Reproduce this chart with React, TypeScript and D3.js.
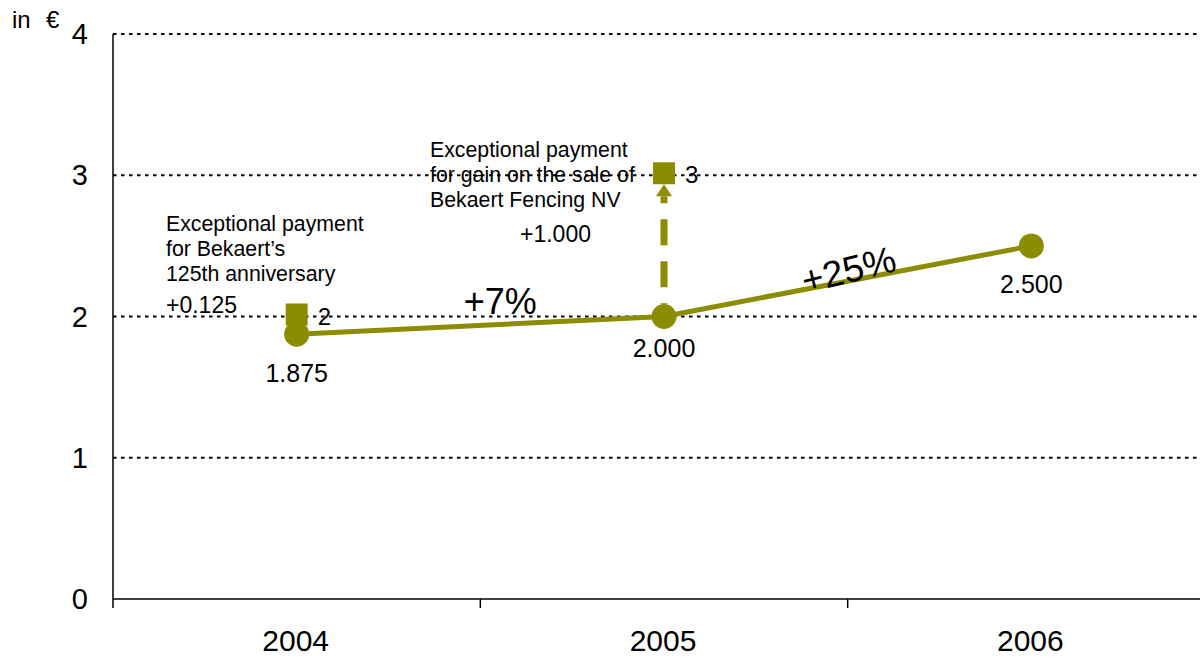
import React from "react";
import * as d3 from "d3";

const years = ["2004", "2005", "2006"];
const dividend = [1.875, 2.0, 2.5];
const dividendLabels = ["1.875", "2.000", "2.500"];
const exceptionalYears = ["2004", "2005"];
const exceptionalTotals = [2, 3];
const exceptionalLabels = ["2", "3"];
const yTicks = [0, 1, 2, 3, 4];
const growthLabels = ["+7%", "+25%"];

const W = 1200;
const H = 658;
const OLIVE = "#8c8c00";
const FONT = "'Liberation Sans', Arial, Helvetica, sans-serif";

export default function App() {
  const x = d3.scaleBand<string>().domain(years).range([113, 1215]).padding(0);
  const y = d3.scaleLinear().domain([0, 4]).range([599, 34]);
  const cx = (yr: string) => (x(yr) as number) + x.bandwidth() / 2;

  const line = d3
    .line<number>()
    .x((_, i) => cx(years[i]))
    .y((d) => y(d));

  const boundaries = years.slice(1).map((yr) => x(yr) as number);
  const r = 12.5;
  const sq = 22;
  const sqShift = -2;

  const ax = cx("2005");
  const arrowTip = y(3) + sq / 2 + sqShift;
  const arrowBase = arrowTip + 12;
  const shaftBottom = y(2) - r;

  const mid1x = (cx("2004") + cx("2005")) / 2;
  const mid1y = (y(dividend[0]) + y(dividend[1])) / 2;
  const mid2x = (cx("2005") + cx("2006")) / 2;
  const mid2y = (y(dividend[1]) + y(dividend[2])) / 2;

  return (
    <div style={{ position: "absolute", left: 0, top: 0 }}>
      <svg width={W} height={H} style={{ display: "block", fontFamily: FONT }}>
        <rect width={W} height={H} fill="#fff" />
        {yTicks
          .filter((t) => t > 0)
          .map((t) => (
            <line
              key={t}
              x1={113}
              x2={W}
              y1={y(t)}
              y2={y(t)}
              stroke="#000"
              strokeWidth={2}
              strokeDasharray="3.5 4.5"
            />
          ))}
        <line x1={113} x2={113} y1={y(4)} y2={608} stroke="#000" strokeWidth={1.5} />
        <line x1={113} x2={W} y1={y(0)} y2={y(0)} stroke="#000" strokeWidth={1.5} />
        {boundaries.map((b, i) => (
          <line key={i} x1={b} x2={b} y1={y(0)} y2={608} stroke="#000" strokeWidth={1.5} />
        ))}
        {yTicks.map((t) => (
          <text key={t} x={88} y={y(t) + 10} textAnchor="end" fontSize={29} fill="#000">
            {t}
          </text>
        ))}
        {years.map((yr) => (
          <text key={yr} x={cx(yr) - 1} y={651} textAnchor="middle" fontSize={30} fill="#000">
            {yr}
          </text>
        ))}
        <text x={12} y={28} fontSize={24} fill="#000">
          in
        </text>
        <text x={46} y={28} fontSize={24} fill="#000">
          €
        </text>

        <path d={line(dividend) as string} fill="none" stroke={OLIVE} strokeWidth={5} />

        <line
          x1={ax}
          x2={ax}
          y1={arrowBase}
          y2={shaftBottom}
          stroke={OLIVE}
          strokeWidth={7}
          strokeDasharray="26 16"
          strokeDashoffset={19}
        />
        <path
          d={`M${ax},${arrowTip} L${ax - 8},${arrowBase} L${ax + 8},${arrowBase} Z`}
          fill={OLIVE}
        />

        {exceptionalYears.map((yr, i) => (
          <rect
            key={yr}
            x={cx(yr) - sq / 2}
            y={y(exceptionalTotals[i]) - sq / 2 + sqShift}
            width={sq}
            height={sq}
            fill={OLIVE}
          />
        ))}
        {exceptionalYears.map((yr, i) => (
          <text
            key={yr}
            x={cx(yr) + 21}
            y={y(exceptionalTotals[i]) + 8}
            fontSize={24}
            fill="#000"
          >
            {exceptionalLabels[i]}
          </text>
        ))}

        {dividend.map((v, i) => (
          <circle key={i} cx={cx(years[i])} cy={y(v)} r={r} fill={OLIVE} />
        ))}

        <text x={cx("2004")} y={382} textAnchor="middle" fontSize={25} fill="#000">
          {dividendLabels[0]}
        </text>
        <text x={cx("2005")} y={357} textAnchor="middle" fontSize={25} fill="#000">
          {dividendLabels[1]}
        </text>
        <text x={cx("2006")} y={293} textAnchor="middle" fontSize={25} fill="#000">
          {dividendLabels[2]}
        </text>

        <text x={mid1x + 20} y={mid1y - 11} textAnchor="middle" fontSize={36} fill="#000">
          {growthLabels[0]}
        </text>
        <text
          x={0}
          y={0}
          textAnchor="middle"
          fontSize={37}
          fill="#000"
          transform={`translate(${mid2x + 4},${mid2y + 1}) rotate(-14)`}
        >
          {growthLabels[1]}
        </text>

        <text x={166} fontSize={21.3} fill="#000">
          <tspan x={166} y={231}>Exceptional payment</tspan>
          <tspan x={166} y={256}>for Bekaert’s</tspan>
          <tspan x={166} y={281}>125th anniversary</tspan>
        </text>
        <text x={166} y={313} fontSize={23} fill="#000">
          +0.125
        </text>
        <text x={430} fontSize={21.3} fill="#000">
          <tspan x={430} y={157}>Exceptional payment</tspan>
          <tspan x={430} y={182}>for gain on the sale of</tspan>
          <tspan x={430} y={207}>Bekaert Fencing NV</tspan>
        </text>
        <text x={520} y={242} fontSize={23} fill="#000">
          +1.000
        </text>
      </svg>
    </div>
  );
}
